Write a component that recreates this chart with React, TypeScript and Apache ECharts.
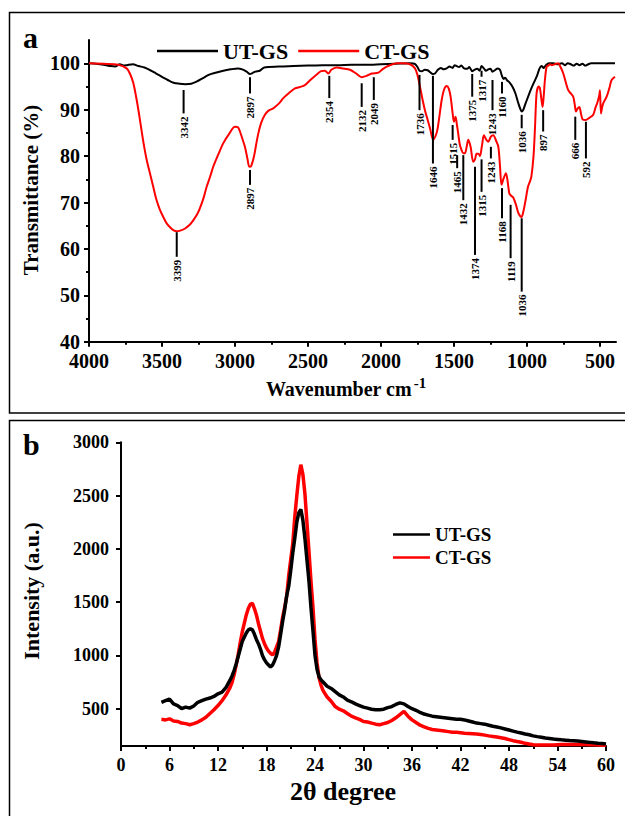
import React, { useEffect, useRef } from 'react';
import * as echarts from 'echarts';

// ---------- FTIR (panel a) ----------
const utWave = [4000, 3950, 3900, 3850, 3822, 3788, 3760, 3740, 3700, 3660, 3620, 3580, 3540, 3500, 3460, 3420, 3380, 3342, 3300, 3260, 3220, 3180, 3140, 3080, 3030, 2980, 2950, 2920, 2897, 2880, 2860, 2830, 2800, 2700, 2600, 2500, 2400, 2300, 2200, 2100, 2000, 1900, 1800, 1770, 1750, 1736, 1720, 1700, 1680, 1660, 1646, 1630, 1610, 1590, 1570, 1550, 1530, 1510, 1495, 1482, 1465, 1450, 1430, 1410, 1395, 1375, 1360, 1340, 1325, 1311, 1295, 1280, 1265, 1250, 1236, 1220, 1200, 1185, 1171, 1160, 1150, 1135, 1120, 1100, 1080, 1060, 1045, 1036, 1025, 1010, 990, 970, 950, 930, 915, 900, 885, 870, 850, 820, 790, 760, 740, 720, 700, 680, 660, 640, 620, 600, 580, 560, 500, 450, 397];
const utT = [100, 99.9, 99.7, 99.4, 99.3, 99.8, 99.5, 99.6, 99.8, 99.4, 99.1, 98.5, 97.8, 97.1, 96.4, 95.8, 95.6, 95.5, 95.6, 96.1, 96.8, 97.5, 97.9, 98.4, 98.7, 98.9, 98.7, 98.2, 97.7, 97.9, 98.2, 98.4, 99.1, 99.3, 99.4, 99.5, 99.6, 99.6, 99.7, 99.7, 99.8, 99.9, 100, 99.9, 99.2, 98.4, 98.3, 98.6, 98.5, 98.0, 97.7, 97.8, 98.6, 99.0, 98.7, 98.9, 99.3, 99.0, 99.6, 99.4, 99.2, 99.5, 98.9, 98.8, 99.2, 98.3, 98.6, 98.8, 98.4, 99.4, 98.9, 98.4, 98.7, 98.8, 98.2, 98.5, 98.9, 98.6, 97.3, 96.6, 96.9, 96.3, 95.9, 95.0, 93.6, 91.5, 90.1, 89.6, 90.0, 91.3, 93.0, 94.6, 96.0, 97.4, 98.8, 99.4, 99.0, 99.6, 100, 100, 99.8, 100, 99.6, 100, 99.8, 99.5, 99.9, 99.6, 99.9, 99.5, 99.8, 100, 100, 100, 100];

const ctWave = [4000, 3900, 3800, 3742, 3720, 3696, 3670, 3651, 3630, 3605, 3580, 3560, 3540, 3514, 3490, 3468, 3440, 3420, 3399, 3370, 3342, 3310, 3285, 3260, 3240, 3215, 3194, 3170, 3149, 3115, 3080, 3040, 3000, 2980, 2966, 2950, 2932, 2915, 2902, 2890, 2870, 2855, 2840, 2820, 2795, 2770, 2738, 2700, 2669, 2630, 2589, 2555, 2521, 2480, 2440, 2410, 2384, 2361, 2340, 2304, 2260, 2212, 2170, 2132, 2100, 2063, 2018, 1990, 1961, 1920, 1893, 1850, 1801, 1767, 1750, 1733, 1716, 1699, 1680, 1664, 1652, 1642, 1628, 1614, 1600, 1584, 1567, 1550, 1535, 1523, 1510, 1500, 1489, 1480, 1471, 1460, 1448, 1436, 1425, 1413, 1402, 1386, 1368, 1356, 1345, 1333, 1322, 1308, 1295, 1280, 1265, 1247, 1231, 1210, 1196, 1185, 1174, 1160, 1144, 1132, 1121, 1110, 1094, 1075, 1060, 1045, 1037, 1025, 1010, 993, 980, 970, 955, 945, 934, 920, 911, 900, 893, 885, 877, 865, 854, 840, 831, 810, 786, 770, 751, 735, 717, 700, 683, 672, 664, 652, 641, 630, 618, 596, 570, 546, 530, 519, 505, 500, 493, 485, 477, 454, 435, 420, 397];
const ctT = [100, 99.9, 99.7, 98.9, 97.8, 95.7, 91.5, 87.8, 83.5, 79.2, 76.0, 73.4, 70.8, 68.4, 66.8, 65.5, 64.5, 64.0, 63.8, 64.0, 64.4, 65.2, 66.2, 67.4, 68.8, 71.0, 73.4, 75.6, 77.7, 80.3, 82.8, 84.8, 86.3, 86.2, 85.3, 83.8, 82.0, 79.5, 77.7, 77.8, 79.9, 82.5, 84.9, 87.2, 88.9, 89.8, 90.3, 91.3, 92.5, 93.6, 94.6, 94.9, 95.3, 96.5, 97.6, 98.3, 98.4, 97.8, 98.6, 99.1, 98.9, 98.6, 97.8, 97.0, 97.3, 97.8, 98.0, 98.7, 99.3, 99.8, 100, 100, 99.8, 98.9, 97.5, 95.0, 92.3, 89.9, 87.8, 86.0, 84.3, 83.6, 84.2, 85.6, 88.5, 92.1, 94.4, 95.1, 94.5, 92.8, 89.5, 87.4, 88.5, 86.8, 84.9, 82.5, 81.3, 80.6, 80.6, 82.0, 83.5, 82.0, 78.8, 79.3, 80.5, 80.5, 80.0, 82.3, 84.5, 83.6, 83.1, 84.2, 84.5, 83.2, 82.0, 78.0, 73.8, 75.2, 76.3, 74.5, 72.0, 71.5, 71.1, 69.5, 67.8, 67.0, 66.9, 68.0, 70.4, 73.4, 74.5, 75.5, 80.0, 86.0, 93.5, 95.0, 94.6, 92.0, 90.6, 93.0, 96.4, 99.3, 99.5, 99.8, 99.6, 99.8, 100, 99.2, 97.8, 96.0, 94.2, 93.5, 92.8, 91.0, 89.6, 90.3, 90.6, 89.2, 87.9, 87.8, 88.3, 88.9, 90.5, 91.4, 93.0, 94.2, 89.2, 90.5, 91.4, 92.8, 94.7, 96.4, 97.1];

// peak annotations: position (cm-1), line top / bottom (%T), label
const annoPos = [3352, 3399, 2897, 2897, 2354, 2132, 2049, 1736, 1644, 1509, 1478, 1436, 1375, 1356, 1311, 1311, 1236, 1247, 1171, 1171, 1112, 1036, 1036, 889, 669, 596];
const annoTop = [94.25, 63.6, 97.0, 77.0, 97.3, 95.7, 97.0, 97.5, 97.3, 86.7, 80.2, 80.2, 97.7, 77.7, 98.4, 79.3, 96.4, 82.0, 96.0, 73.1, 69.5, 88.9, 66.6, 89.9, 88.5, 87.4];
const annoBottom = [89.2, 58.3, 93.5, 73.8, 92.5, 90.6, 92.1, 89.9, 78.4, 83.5, 77.4, 70.5, 92.8, 58.7, 97.1, 72.3, 89.9, 79.5, 93.5, 66.6, 58.0, 86.0, 50.8, 85.3, 83.5, 79.5];
const annoText = ['3342', '3399', '2897', '2897', '2354', '2132', '2049', '1736', '1646', '1515', '1465', '1432', '1375', '1374', '1317', '1315', '1243', '1243', '1160', '1168', '1119', '1036', '1036', '897', '666', '592'];

const ftirXTicks = [500, 1000, 1500, 2000, 2500, 3000, 3500, 4000];
const ftirXMinor = [750, 1250, 1750, 2250, 2750, 3250, 3750];
const ftirYTicks = [40, 50, 60, 70, 80, 90, 100];
const ftirYMinor = [45, 55, 65, 75, 85, 95];

// ---------- XRD (panel b) ----------
const xrdAngle = [5, 5.5, 6, 6.5, 7, 7.5, 8, 8.5, 9, 9.5, 10, 10.5, 11, 11.5, 12, 12.5, 13, 13.5, 13.75, 14, 14.25, 14.5, 14.75, 15, 15.25, 15.5, 15.75, 16, 16.25, 16.5, 16.75, 17, 17.25, 17.5, 17.75, 18, 18.25, 18.5, 18.75, 19, 19.25, 19.5, 19.75, 20, 20.25, 20.5, 20.75, 21, 21.25, 21.5, 21.75, 22, 22.25, 22.5, 22.75, 23, 23.25, 23.5, 23.75, 24, 24.25, 24.5, 24.75, 25, 25.5, 26, 26.5, 27, 27.5, 28, 28.5, 29, 29.5, 30, 30.5, 31, 31.5, 32, 32.5, 33, 33.5, 34, 34.5, 35, 35.5, 36, 36.5, 37, 37.5, 38, 38.5, 39, 39.5, 40, 40.5, 41, 41.5, 42, 42.5, 43, 43.5, 44, 44.5, 45, 45.5, 46, 46.5, 47, 47.5, 48, 48.5, 49, 49.5, 50, 50.5, 51, 51.5, 52, 52.5, 53, 53.5, 54, 54.5, 55, 55.5, 56, 56.5, 57, 57.5, 58, 58.5, 59, 59.5, 60];
const xrdUT = [560, 575, 590, 545, 530, 500, 515, 505, 525, 560, 575, 590, 600, 615, 640, 655, 700, 770, 810, 860, 920, 990, 1060, 1130, 1170, 1210, 1240, 1250, 1240, 1200, 1150, 1110, 1060, 1000, 960, 930, 910, 890, 910, 950, 1000, 1080, 1200, 1320, 1430, 1560, 1650, 1800, 1960, 2100, 2250, 2340, 2370, 2270, 2100, 1900, 1700, 1450, 1230, 1000, 870, 800, 770, 750, 710, 690, 660, 630, 610, 580, 565, 545, 530, 515, 505, 495, 490, 490, 495, 510, 520, 540, 555, 545, 520, 500, 485, 465, 450, 440, 430, 425, 420, 415, 410, 405, 400, 400, 395, 385, 375, 365, 360, 355, 345, 335, 328, 320, 310, 300, 290, 280, 272, 262, 255, 245, 238, 232, 225, 220, 215, 212, 208, 205, 202, 200, 196, 192, 188, 184, 180, 176, 174, 170];
const xrdCT = [400, 395, 405, 385, 380, 365, 360, 350, 360, 375, 395, 420, 455, 490, 530, 575, 630, 700, 750, 820, 910, 1010, 1120, 1220, 1300, 1380, 1440, 1480, 1490, 1440, 1380, 1300, 1230, 1160, 1110, 1070, 1040, 1020, 1005, 1030, 1080, 1130, 1240, 1360, 1450, 1560, 1750, 1900, 2050, 2300, 2500, 2680, 2790, 2700, 2520, 2250, 1980, 1700, 1450, 1150, 930, 790, 720, 670, 610, 570, 520, 495, 480, 455, 430, 415, 400, 380, 375, 365, 355, 350, 360, 370, 390, 415, 445, 475, 430, 395, 370, 345, 330, 315, 305, 300, 295, 290, 285, 280, 278, 275, 270, 268, 265, 262, 258, 252, 245, 240, 235, 228, 220, 210, 200, 192, 185, 175, 168, 162, 160, 160, 160, 160, 160, 162, 163, 164, 165, 165, 165, 165, 163, 162, 161, 160, 158, 156];
const xrdYTicks = [500, 1000, 1500, 2000, 2500, 3000];

const FONT = '"Liberation Serif", "Times New Roman", serif';
const zip = (a: number[], b: number[]) => a.map((v, i) => [v, b[i]]);
const plain = (v: number) => String(v);

const axisLine = { show: true, onZero: false, lineStyle: { color: '#000', width: 2 } };
const tickStyle = { color: '#000', width: 2 };

export default function App() {
  const ref = useRef<HTMLDivElement>(null);
  useEffect(() => {
    if (!ref.current) return;
    const chart = echarts.init(ref.current, null, { renderer: 'svg' });
    const labelA = { color: '#000', fontSize: 20, fontWeight: 'bold', fontFamily: FONT, formatter: plain };
    const labelB = { color: '#000', fontSize: 18, fontWeight: 'bold', fontFamily: FONT, formatter: plain };
    const option: any = {
      animation: false,
      backgroundColor: '#fff',
      grid: [
        { left: 89, top: 40.1, width: 527, height: 301.6 },
        { left: 121, top: 442.3, width: 485, height: 303.7 },
      ],
      xAxis: [
        {
          gridIndex: 0, type: 'value', min: 390, max: 4000, inverse: true, position: 'bottom',
          axisLine, splitLine: { show: false },
          axisTick: { show: true, length: 5, lineStyle: tickStyle, customValues: ftirXTicks },
          axisLabel: { ...labelA, margin: 9, customValues: ftirXTicks },
        },
        {
          gridIndex: 0, type: 'value', min: 390, max: 4000, inverse: true, position: 'bottom',
          axisLine: { show: false }, splitLine: { show: false },
          axisTick: { show: true, length: 3, lineStyle: tickStyle, customValues: ftirXMinor },
          axisLabel: { show: false },
        },
        {
          gridIndex: 1, type: 'value', min: 0, max: 60, interval: 6, position: 'bottom',
          axisLine, splitLine: { show: false },
          axisTick: { show: true, length: 5, lineStyle: tickStyle },
          minorTick: { show: true, splitNumber: 2, length: 3, lineStyle: tickStyle },
          axisLabel: { ...labelB, margin: 10 },
        },
      ],
      yAxis: [
        {
          gridIndex: 0, type: 'value', min: 40, max: 105, position: 'left',
          axisLine, splitLine: { show: false },
          axisTick: { show: true, length: 5, lineStyle: tickStyle, customValues: ftirYTicks },
          axisLabel: { ...labelA, margin: 9, customValues: ftirYTicks },
        },
        {
          gridIndex: 0, type: 'value', min: 40, max: 105, position: 'left',
          axisLine: { show: false }, splitLine: { show: false },
          axisTick: { show: true, length: 3, lineStyle: tickStyle, customValues: ftirYMinor },
          axisLabel: { show: false },
        },
        {
          gridIndex: 1, type: 'value', min: 150, max: 3000, position: 'left',
          axisLine, splitLine: { show: false },
          axisTick: { show: true, length: 5, lineStyle: tickStyle, customValues: xrdYTicks },
          axisLabel: { ...labelB, margin: 12, customValues: xrdYTicks },
        },
      ],
      legend: [
        {
          data: ['UT-GS', 'CT-GS'], left: 152, top: 35, orient: 'horizontal', icon: 'rect',
          itemWidth: 61, itemHeight: 2.5, itemGap: 10, selectedMode: false,
          textStyle: { color: '#000', fontSize: 22, fontWeight: 'bold', fontFamily: FONT },
        },
        {
          data: ['UT-GS', 'CT-GS'], left: 388, top: 520, orient: 'vertical', icon: 'rect',
          itemWidth: 37, itemHeight: 2.5, itemGap: 4, selectedMode: false,
          textStyle: { color: '#000', fontSize: 19, fontWeight: 'bold', fontFamily: FONT },
        },
      ],
      series: [
        {
          name: 'UT-GS', type: 'line', xAxisIndex: 0, yAxisIndex: 0, data: zip(utWave, utT),
          showSymbol: false, smooth: 0.3, color: '#000', lineStyle: { width: 2, color: '#000' }, z: 3,
        },
        {
          name: 'CT-GS', type: 'line', xAxisIndex: 0, yAxisIndex: 0, data: zip(ctWave, ctT),
          showSymbol: false, smooth: 0.3, color: '#ff0000', lineStyle: { width: 2, color: '#ff0000' }, z: 4,
        },
        {
          name: 'peaks', type: 'custom', xAxisIndex: 0, yAxisIndex: 0, clip: false, z: 5,
          data: annoPos.map((p, i) => [p, annoTop[i], annoBottom[i]]),
          encode: { x: 0, y: [1, 2] },
          renderItem: (params: any, api: any) => {
            const p = api.value(0);
            const a = api.coord([p, api.value(1)]);
            const b = api.coord([p, api.value(2)]);
            return {
              type: 'group',
              children: [
                { type: 'line', shape: { x1: a[0], y1: a[1], x2: b[0], y2: b[1] }, style: { stroke: '#000', lineWidth: 2 } },
                {
                  type: 'text', x: b[0], y: b[1] + 3, rotation: Math.PI / 2,
                  style: { text: annoText[params.dataIndex], fill: '#000', fontSize: 11, fontWeight: 'bold', fontFamily: FONT, align: 'right', verticalAlign: 'middle' },
                },
              ],
            };
          },
        },
        {
          name: 'CT-GS', type: 'line', xAxisIndex: 2, yAxisIndex: 2, data: zip(xrdAngle, xrdCT),
          showSymbol: false, color: '#ff0000', lineStyle: { width: 3.5, color: '#ff0000' }, z: 3,
        },
        {
          name: 'UT-GS', type: 'line', xAxisIndex: 2, yAxisIndex: 2, data: zip(xrdAngle, xrdUT),
          showSymbol: false, color: '#000', lineStyle: { width: 3.5, color: '#000' }, z: 4,
        },
      ],
      graphic: [
        { type: 'rect', shape: { x: 9.5, y: 12.5, width: 640, height: 400.5 }, style: { fill: 'none', stroke: '#000', lineWidth: 1.5 } },
        { type: 'rect', shape: { x: 9.5, y: 420.5, width: 640, height: 420 }, style: { fill: 'none', stroke: '#000', lineWidth: 1.5 } },
        { type: 'text', x: 23, y: 52, style: { text: 'a', fill: '#000', fontSize: 30, fontWeight: 'bold', fontFamily: FONT, verticalAlign: 'bottom' } },
        { type: 'text', x: 23, y: 459, style: { text: 'b', fill: '#000', fontSize: 30, fontWeight: 'bold', fontFamily: FONT, verticalAlign: 'bottom' } },
        {
          type: 'text', x: 31, y: 190, rotation: Math.PI / 2,
          style: { text: 'Transmittance (%)', fill: '#000', fontSize: 21, fontWeight: 'bold', fontFamily: FONT, align: 'center', verticalAlign: 'middle' },
        },
        {
          type: 'text', x: 31, y: 591, rotation: Math.PI / 2,
          style: { text: 'Intensity (a.u.)', fill: '#000', fontSize: 22, fontWeight: 'bold', fontFamily: FONT, align: 'center', verticalAlign: 'middle' },
        },
        {
          type: 'text', x: 346, y: 389,
          style: {
            text: '{n|Wavenumber cm}{s|-1}', align: 'center', verticalAlign: 'middle',
            rich: {
              n: { fill: '#000', fontSize: 20, fontWeight: 'bold', fontFamily: FONT },
              s: { fill: '#000', fontSize: 15, fontWeight: 'bold', fontFamily: FONT, padding: [0, 0, 12, 2] },
            },
          },
        },
        {
          type: 'text', x: 343, y: 791,
          style: { text: '2θ degree', fill: '#000', fontSize: 26, fontWeight: 'bold', fontFamily: FONT, align: 'center', verticalAlign: 'middle' },
        },
      ],
    };
    chart.setOption(option);
    return () => chart.dispose();
  }, []);
  return <div ref={ref} style={{ position: 'fixed', left: 0, top: 0, width: 625, height: 816, background: '#fff' }} />;
}
